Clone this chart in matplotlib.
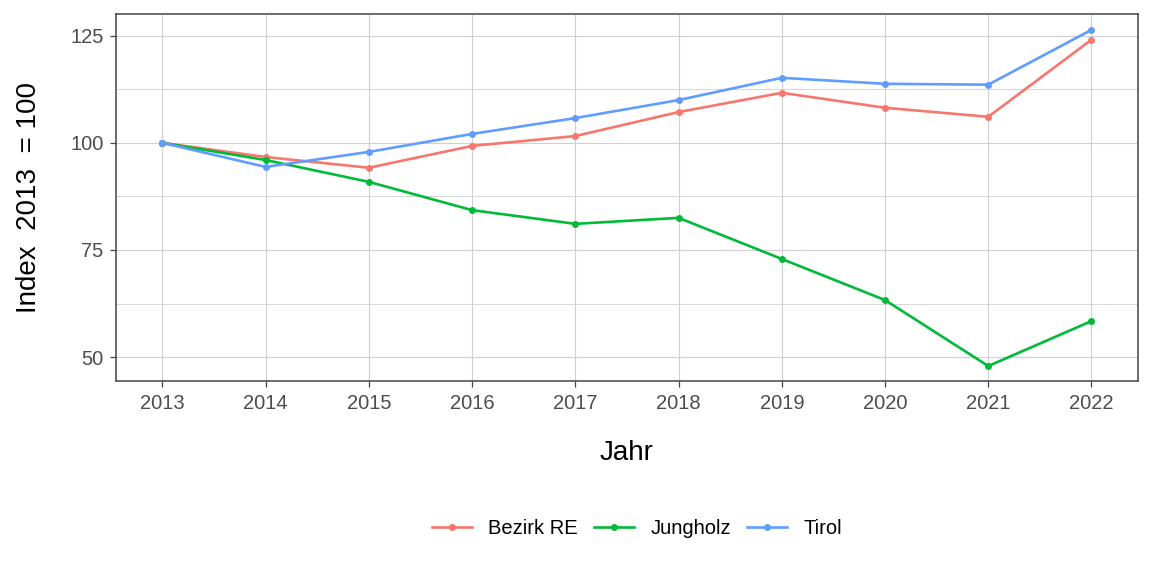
import matplotlib
matplotlib.use("Agg")
import matplotlib.pyplot as plt
from matplotlib.ticker import MultipleLocator

plt.rcParams['font.family'] = ['Liberation Sans', 'DejaVu Sans']

years = [2013, 2014, 2015, 2016, 2017, 2018, 2019, 2020, 2021, 2022]
bezirk_re = [100, 96.7, 94.2, 99.3, 101.6, 107.2, 111.7, 108.2, 106.1, 124.1]
jungholz = [100, 96.0, 90.9, 84.3, 81.1, 82.5, 72.9, 63.3, 47.9, 58.4]
tirol = [100, 94.4, 97.9, 102.1, 105.8, 110.0, 115.2, 113.8, 113.6, 126.4]

series = [("Bezirk RE", bezirk_re, "#F8766D"),
          ("Jungholz", jungholz, "#00BA38"),
          ("Tirol", tirol, "#619CFF")]

fig = plt.figure(figsize=(11.52, 5.76), dpi=100)
ax = fig.add_axes([0.1007, 0.3385, 0.8871, 0.6372])

for name, vals, col in series:
    ax.plot(years, vals, color=col, lw=1.9, marker="o", ms=4, label=name, zorder=3)

ax.set_xlim(2012.55, 2022.45)
ax.set_ylim(44.4, 130.1)
ax.set_xticks(years)
ax.yaxis.set_major_locator(MultipleLocator(25))
ax.yaxis.set_minor_locator(MultipleLocator(12.5))
ax.grid(which="major", color="#d0d0d0", lw=0.8, zorder=0)
ax.grid(which="minor", axis="y", color="#d0d0d0", lw=0.6, zorder=0)
ax.tick_params(which="minor", length=0)
ax.tick_params(which="major", length=4, width=0.9, color="#444444",
               labelsize=14.5, labelcolor="#4d4d4d", pad=5)
for s in ax.spines.values():
    s.set_color("#444444")
    s.set_linewidth(1.1)

ax.set_xlabel("Jahr", fontsize=20, labelpad=20)
ax.set_ylabel("Index  2013  = 100", fontsize=20, labelpad=20)

fig.legend(loc="center", bbox_to_anchor=(0.553, 0.083), ncol=3, frameon=False,
           fontsize=14.5, handlelength=2.0, columnspacing=0.8, handletextpad=0.8)

fig.savefig("out.png", dpi=100)
